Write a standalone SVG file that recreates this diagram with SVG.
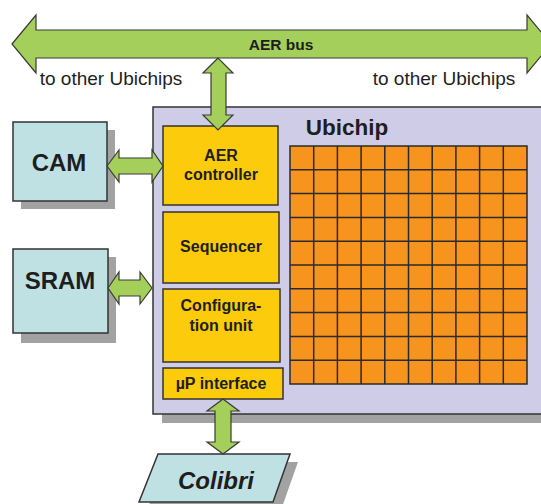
<svg xmlns="http://www.w3.org/2000/svg" width="541" height="504" viewBox="0 0 541 504">
  <style>
    .arrow { fill: #a4cf5a; stroke: #3a3a3a; stroke-width: 1.2; stroke-linejoin: miter; }
    .shadow { fill: #a2a2a2; }
    .ext { fill: #bfe1e4; stroke: #333; stroke-width: 1.5; }
    .blk { fill: #fccb0b; stroke: #333; stroke-width: 1.5; }
    .t { font-family: "Liberation Sans", Arial, sans-serif; fill: #1e1e1e; text-anchor: middle; }
    .b { font-weight: bold; }
  </style>

  <!-- Ubichip body -->
  <g id="ubichip">
    <rect class="shadow" x="162" y="116" width="400" height="307"/>
    <rect x="153" y="107" width="400" height="307" fill="#cfcce7" stroke="#333" stroke-width="1.5"/>
    <text class="t b" x="347" y="135" font-size="22.5">Ubichip</text>
  </g>

  <!-- 10x10 cell array -->
  <g id="cell-array">
    <rect x="290" y="146" width="237" height="238" fill="#f7941d" stroke="#2a2a2a" stroke-width="1.5"/>
    <path d="M313.7 146V384M337.4 146V384M361.1 146V384M384.8 146V384M408.5 146V384M432.2 146V384M455.9 146V384M479.6 146V384M503.3 146V384
             M290 169.8H527M290 193.6H527M290 217.4H527M290 241.2H527M290 265H527M290 288.8H527M290 312.6H527M290 336.4H527M290 360.2H527"
          stroke="#2a2a2a" stroke-width="1.5" fill="none"/>
  </g>

  <g id="aer-controller">
    <rect class="blk" x="163" y="126" width="115" height="79"/>
    <text class="t b" x="221" y="161" font-size="16">AER</text>
    <text class="t b" x="221" y="180" font-size="16">controller</text>
  </g>

  <g id="sequencer">
    <rect class="blk" x="163" y="212" width="116" height="71"/>
    <text class="t b" x="221" y="252" font-size="16">Sequencer</text>
  </g>

  <g id="configuration-unit">
    <rect class="blk" x="163" y="289" width="117" height="73"/>
    <text class="t b" x="221" y="311" font-size="16">Configura-</text>
    <text class="t b" x="221" y="331" font-size="16">tion unit</text>
  </g>

  <g id="up-interface">
    <rect class="blk" x="163" y="368" width="120" height="31"/>
    <text class="t b" x="221" y="389" font-size="16">µP interface</text>
  </g>

  <g id="cam">
    <rect class="shadow" x="21" y="130" width="94" height="79"/>
    <rect class="ext" x="13" y="122" width="94" height="79"/>
    <text class="t b" x="59" y="171" font-size="24">CAM</text>
  </g>

  <g id="sram">
    <rect class="shadow" x="21" y="257" width="95" height="86"/>
    <rect class="ext" x="13" y="249" width="95" height="84"/>
    <text class="t b" x="60" y="289" font-size="24">SRAM</text>
  </g>

  <g id="colibri">
    <polygon class="shadow" points="166,462 298,462 281,510 147,510"/>
    <polygon class="ext" points="158,454 290,454 273,502 139,502"/>
    <text class="t b" x="216" y="489" font-size="24" font-style="italic">Colibri</text>
  </g>

  <!-- bidirectional bus connectors -->
  <g id="connectors">
    <polygon class="arrow" points="12,44 36,15 36,30 527,30 527,15 551,44 527,73 527,58 36,58 36,73"/>
    <polygon class="arrow" points="218,58 203,73 211,73 211,115 203,115 218,130 233,115 226,115 226,73 233,73"/>
    <polygon class="arrow" points="107,166 119,150 119,158 152,158 152,150 163,166 152,182 152,174 119,174 119,182"/>
    <polygon class="arrow" points="108,288 119,272 119,280 140,280 140,272 152,288 140,304 140,296 119,296 119,304"/>
    <polygon class="arrow" points="223,399 207,411 215,411 215,442 207,442 223,454 239,442 231,442 231,411 239,411"/>
  </g>

  <g id="labels">
    <text class="t b" x="281" y="50" font-size="15.5">AER bus</text>
    <text class="t" x="111" y="85" font-size="19">to other Ubichips</text>
    <text class="t" x="444" y="85" font-size="19">to other Ubichips</text>
  </g>
</svg>
